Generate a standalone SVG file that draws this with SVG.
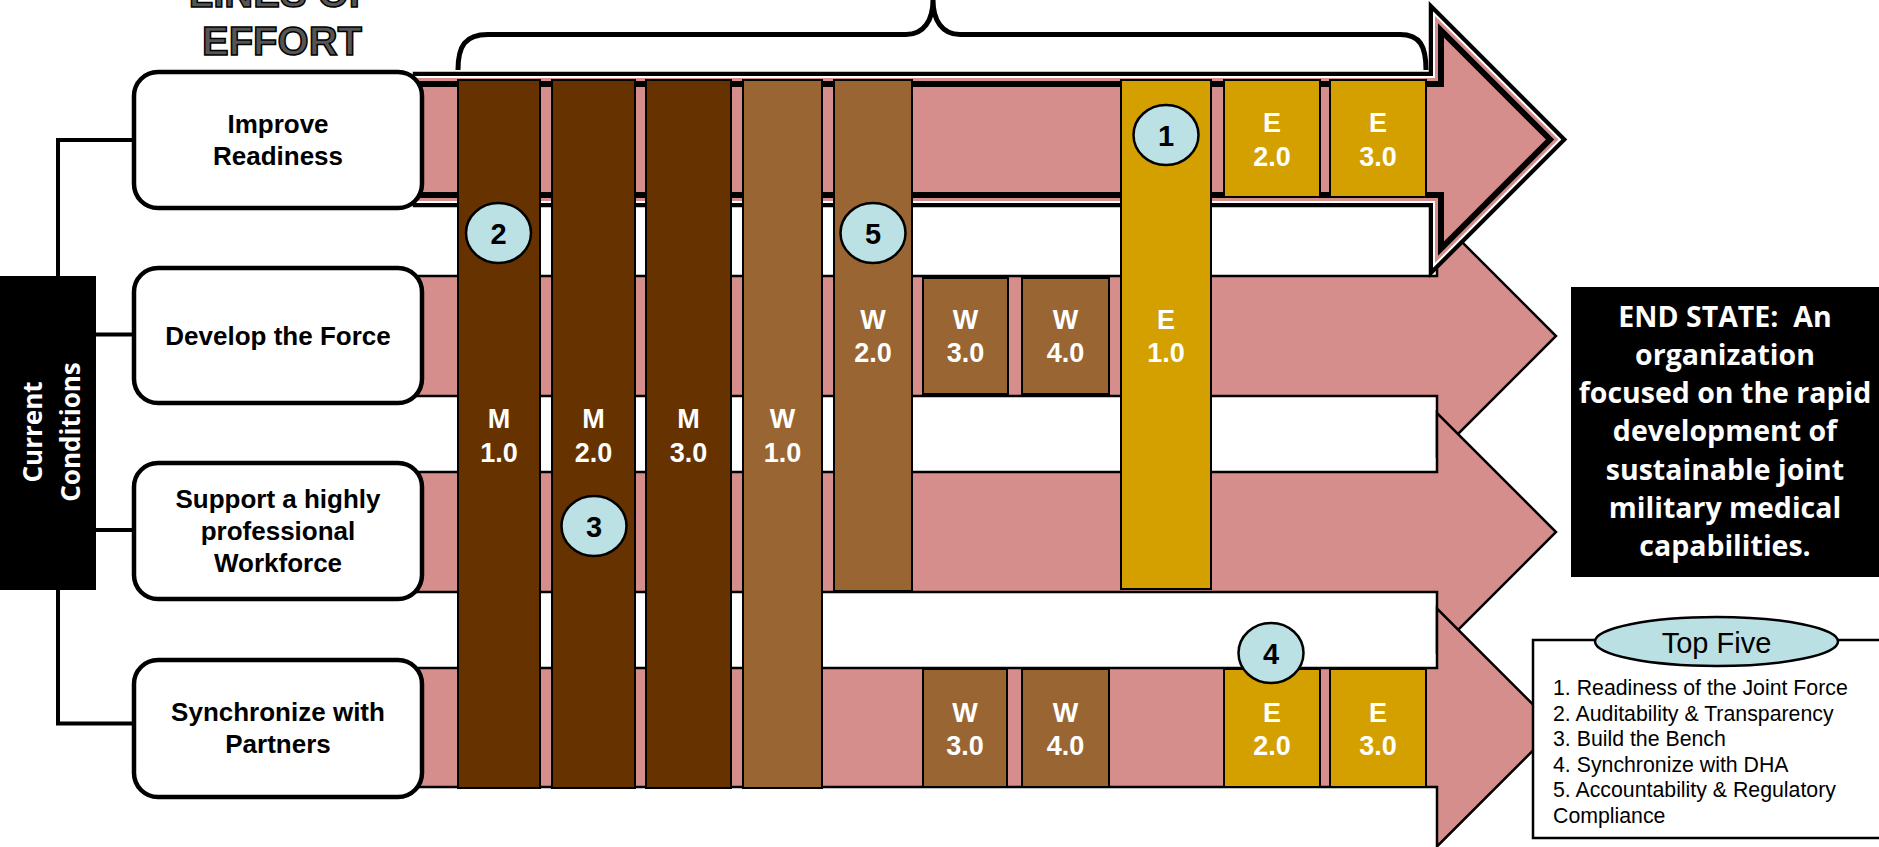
<svg xmlns="http://www.w3.org/2000/svg" width="1879" height="847" viewBox="0 0 1879 847">
<defs>
<style>
.band{fill:#D68E8C;stroke:#000;stroke-width:2.5;stroke-linejoin:miter}
.dk{fill:#663300;stroke:#000;stroke-width:2}
.md{fill:#996633;stroke:#000;stroke-width:2}
.gd{fill:#D4A000;stroke:#000;stroke-width:2}
.lbl{font-family:"Liberation Sans",Arial,sans-serif;font-weight:bold;font-size:27px;fill:#fff;text-anchor:middle}
.num{font-family:"Liberation Sans",Arial,sans-serif;font-weight:bold;font-size:29px;fill:#000;text-anchor:middle}
.circ{fill:#BCE1E4;stroke:#000;stroke-width:2.5}
.box{fill:#fff;stroke:#000;stroke-width:4.5}
.btxt{font-family:"Liberation Sans",Arial,sans-serif;font-weight:bold;font-size:26px;fill:#000;text-anchor:middle}
.conn{stroke:#000;stroke-width:4;fill:none}
.es{font-family:"Open Sans","Noto Sans",sans-serif;font-weight:bold;font-size:28.5px;fill:#fff;text-anchor:middle}
.cc{font-family:"Open Sans","Noto Sans",sans-serif;font-weight:bold;font-size:26px;fill:#fff;text-anchor:middle}
.ttl{font-family:"Liberation Sans",Arial,sans-serif;font-weight:bold;font-size:40px;fill:#555;stroke:#000;stroke-width:1.5;text-anchor:middle}
.tf{font-family:"Liberation Sans",Arial,sans-serif;font-size:21.3px;fill:#000}
</style>
</defs>
<rect width="1879" height="847" fill="#fff"/>

<g id="title">
<text class="ttl" x="281" y="6.5">LINES OF</text>
<text class="ttl" x="282" y="55">EFFORT</text>
</g>

<g id="brace">
<path d="M458,70 C458,46 465,34.5 488,34.5 H906 C924,34.5 933,20 933,0 C933,20 942,34.5 960,34.5 H1400 C1420,34.5 1426,46 1426,70" fill="none" stroke="#000" stroke-width="5"/>
</g>

<g id="bands">
<path id="band2" class="band" d="M415,276 H1437 V217 L1556,336 L1437,455 V396 H415 Z"/>
<path id="band3" class="band" d="M415,472 H1437 V413 L1556,532 L1437,651 V592 H415 Z"/>
<path id="band4" class="band" d="M415,668 H1437 V608.5 L1556,727.5 L1437,846.5 V787 H415 Z"/>
<g id="band1">
<path d="M415,74 H1431 V6.4 L1564.1,139.5 L1431,272.6 V205 H415 Z" fill="none" stroke="#000" stroke-width="4.5"/>
<path d="M415,84 H1441 V30.5 L1550,139.5 L1441,248.5 V195 H415 Z" fill="none" stroke="#fff" stroke-width="16"/>
<path d="M415,84 H1441 V30.5 L1550,139.5 L1441,248.5 V195 H415 Z" fill="none" stroke="#D68E8C" stroke-width="12"/>
<path d="M415,84 H1441 V30.5 L1550,139.5 L1441,248.5 V195 H415 Z" fill="#D68E8C" stroke="#000" stroke-width="6"/>
</g>
</g>

<g id="bars">
<g id="M1"><rect class="dk" x="458" y="80" width="82" height="708"/><text class="lbl" x="499" y="428">M</text><text class="lbl" x="499" y="462">1.0</text></g>
<g id="M2"><rect class="dk" x="552" y="80" width="83" height="708"/><text class="lbl" x="593.5" y="428">M</text><text class="lbl" x="593.5" y="462">2.0</text></g>
<g id="M3"><rect class="dk" x="646" y="80" width="85" height="708"/><text class="lbl" x="688.5" y="428">M</text><text class="lbl" x="688.5" y="462">3.0</text></g>
<g id="W1"><rect class="md" x="743" y="80" width="79" height="708"/><text class="lbl" x="782.5" y="428">W</text><text class="lbl" x="782.5" y="462">1.0</text></g>
<g id="W2"><rect class="md" x="834" y="80" width="78" height="511"/><text class="lbl" x="873" y="329">W</text><text class="lbl" x="873" y="362">2.0</text></g>
<g id="W3a"><rect class="md" x="923" y="278" width="85" height="116"/><text class="lbl" x="965.5" y="329">W</text><text class="lbl" x="965.5" y="362">3.0</text></g>
<g id="W4a"><rect class="md" x="1022" y="278" width="87" height="116"/><text class="lbl" x="1065.5" y="329">W</text><text class="lbl" x="1065.5" y="362">4.0</text></g>
<g id="E1"><rect class="gd" x="1121" y="80" width="90" height="509"/><text class="lbl" x="1166" y="329">E</text><text class="lbl" x="1166" y="362">1.0</text></g>
<g id="E2a"><rect class="gd" x="1224" y="80" width="96" height="117"/><text class="lbl" x="1272" y="132">E</text><text class="lbl" x="1272" y="166">2.0</text></g>
<g id="E3a"><rect class="gd" x="1330" y="80" width="96" height="117"/><text class="lbl" x="1378" y="132">E</text><text class="lbl" x="1378" y="166">3.0</text></g>
<g id="W3b"><rect class="md" x="923" y="669" width="84" height="118"/><text class="lbl" x="965" y="722">W</text><text class="lbl" x="965" y="755">3.0</text></g>
<g id="W4b"><rect class="md" x="1022" y="669" width="87" height="118"/><text class="lbl" x="1065.5" y="722">W</text><text class="lbl" x="1065.5" y="755">4.0</text></g>
<g id="E2b"><rect class="gd" x="1224" y="669" width="96" height="118"/><text class="lbl" x="1272" y="722">E</text><text class="lbl" x="1272" y="755">2.0</text></g>
<g id="E3b"><rect class="gd" x="1330" y="669" width="96" height="118"/><text class="lbl" x="1378" y="722">E</text><text class="lbl" x="1378" y="755">3.0</text></g>
</g>

<g id="markers">
<g id="c1"><ellipse class="circ" cx="1166" cy="135" rx="32.5" ry="30"/><text class="num" x="1166" y="145.5">1</text></g>
<g id="c2"><ellipse class="circ" cx="498.5" cy="233" rx="32.5" ry="30"/><text class="num" x="498.5" y="243.5">2</text></g>
<g id="c3"><ellipse class="circ" cx="594" cy="526" rx="32.5" ry="30"/><text class="num" x="594" y="536.5">3</text></g>
<g id="c4"><ellipse class="circ" cx="1271" cy="653" rx="32.5" ry="30"/><text class="num" x="1271" y="663.5">4</text></g>
<g id="c5"><ellipse class="circ" cx="873" cy="233" rx="32.5" ry="30"/><text class="num" x="873" y="243.5">5</text></g>
</g>

<g id="connectors">
<path class="conn" d="M58,140 V723.5"/>
<path class="conn" d="M56,140 H134"/>
<path class="conn" d="M58,334.5 H134"/>
<path class="conn" d="M58,530 H134"/>
<path class="conn" d="M56,723.5 H134"/>
</g>

<g id="current">
<rect x="0" y="276" width="96" height="314" fill="#000"/>
<text class="cc" transform="translate(42,432) rotate(-90)">Current</text>
<text class="cc" transform="translate(80,432) rotate(-90)">Conditions</text>
</g>

<g id="loe1"><rect class="box" x="134" y="72" width="288" height="136" rx="24"/><text class="btxt" x="278" y="133">Improve</text><text class="btxt" x="278" y="165">Readiness</text></g>
<g id="loe2"><rect class="box" x="134" y="268" width="288" height="135" rx="24"/><text class="btxt" x="278" y="345">Develop the Force</text></g>
<g id="loe3"><rect class="box" x="134" y="463" width="288" height="136" rx="24"/><text class="btxt" x="278" y="508">Support a highly</text><text class="btxt" x="278" y="540">professional</text><text class="btxt" x="278" y="572">Workforce</text></g>
<g id="loe4"><rect class="box" x="134" y="660" width="288" height="137" rx="24"/><text class="btxt" x="278" y="721">Synchronize with</text><text class="btxt" x="278" y="753">Partners</text></g>

<g id="endstate">
<rect x="1571" y="287" width="308" height="290" fill="#000"/>
<text class="es" x="1725" y="327" xml:space="preserve">END STATE:  An</text>
<text class="es" x="1725" y="365">organization</text>
<text class="es" x="1725" y="403">focused on the rapid</text>
<text class="es" x="1725" y="441">development of</text>
<text class="es" x="1725" y="480">sustainable joint</text>
<text class="es" x="1725" y="518">military medical</text>
<text class="es" x="1725" y="556">capabilities.</text>
</g>

<g id="topfive">
<rect x="1533" y="640" width="360" height="198" fill="#fff" stroke="#000" stroke-width="2.5"/>
<ellipse cx="1716.5" cy="641.5" rx="121.5" ry="24.5" fill="#BBE0E3" stroke="#000" stroke-width="2.5"/>
<text x="1716.5" y="652.7" font-family="Liberation Sans,Arial,sans-serif" font-size="29" text-anchor="middle">Top Five</text>
<text class="tf" x="1553" y="695">1. Readiness of the Joint Force</text>
<text class="tf" x="1553" y="721">2. Auditability &amp; Transparency</text>
<text class="tf" x="1553" y="746">3. Build the Bench</text>
<text class="tf" x="1553" y="771.5">4. Synchronize with DHA</text>
<text class="tf" x="1553" y="797">5. Accountability &amp; Regulatory</text>
<text class="tf" x="1553" y="822.5">Compliance</text>
</g>
</svg>
